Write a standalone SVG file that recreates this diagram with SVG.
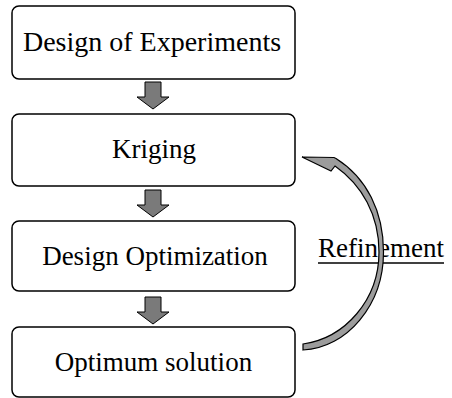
<svg xmlns="http://www.w3.org/2000/svg" width="452" height="398" viewBox="0 0 452 398">
<style>
.box{fill:#fff;stroke:#000;stroke-width:1.5}
text{font-family:'Liberation Serif',serif;font-size:27px;fill:#000}
.lbl{text-anchor:middle}
.down{fill:#7a7a7a;stroke:#000;stroke-width:1}
.loop{fill:#9c9c9c;stroke:#000;stroke-width:1.2;stroke-linejoin:miter}
</style>
<rect width="452" height="398" fill="#fff"/>
<g id="n1"><rect class="box" x="12" y="6" width="283" height="73" rx="7"/><text class="lbl" x="152" y="51" style="font-size:28px">Design of Experiments</text></g>
<g id="n2"><rect class="box" x="12" y="114" width="283" height="72" rx="7"/><text class="lbl" x="154" y="158">Kriging</text></g>
<g id="n3"><rect class="box" x="12" y="221" width="283" height="70" rx="7"/><text class="lbl" x="155" y="264.5">Design Optimization</text></g>
<g id="n4"><rect class="box" x="12" y="327" width="283" height="70" rx="7"/><text class="lbl" x="153.5" y="370.5">Optimum solution</text></g>
<g id="refine"><text x="318" y="257">Refinement</text><line x1="318" y1="263" x2="444" y2="263" stroke="#000" stroke-width="1.5"/></g>
<g id="connectors">
<path class="down" d="M145,82 H161 V97 H169 L153,109 L137,97 H145 Z"/>
<path class="down" d="M145,190 H161 V205 H169 L153,217 L137,205 H145 Z"/>
<path class="down" d="M145,297 H161 V312 H169 L153,324 L137,312 H145 Z"/>
<path class="loop" d="M303,350 L303,344 C345,338 379,300 379,252 C379,215 362,185 335,166 L331,171 L302,157 L334,157.5 L336,158.5 C367,178 383.5,212 383.5,252 C383.5,305 347,348 303,350 Z"/>
</g>
</svg>
